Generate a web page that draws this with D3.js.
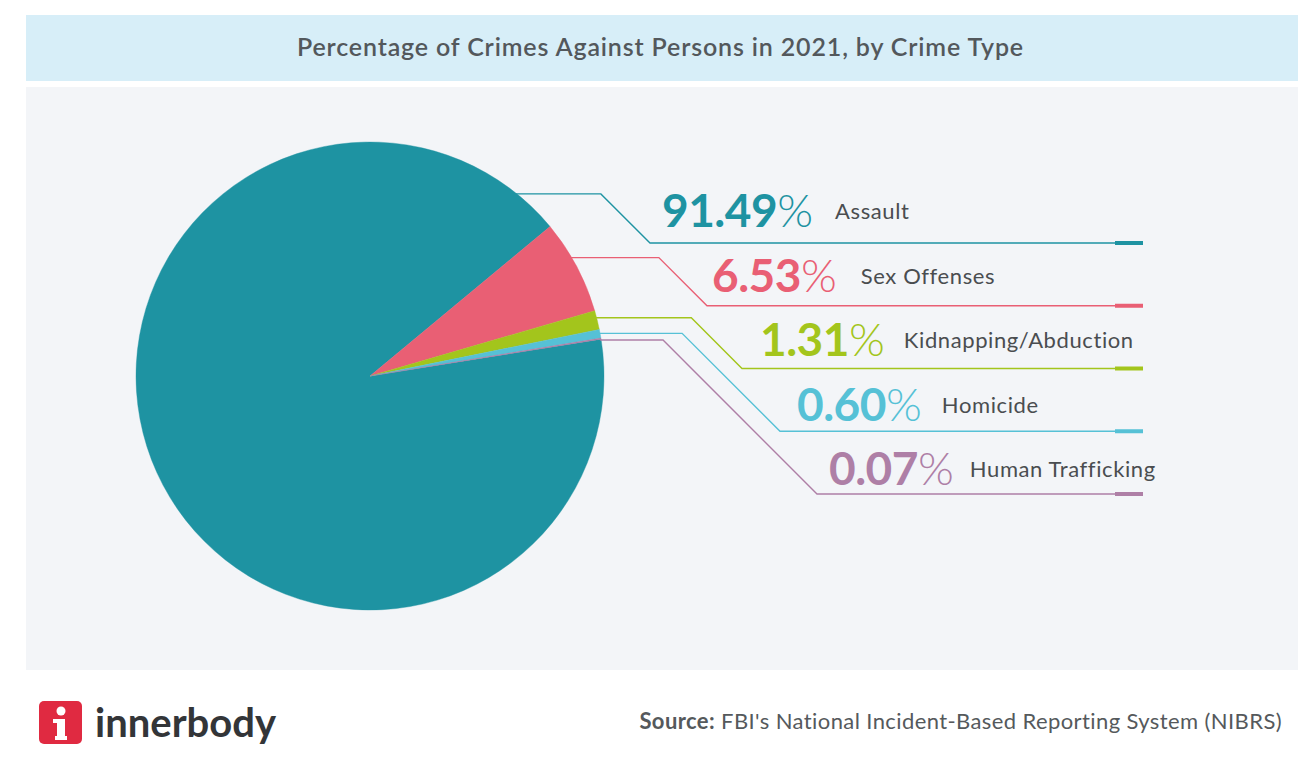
<!DOCTYPE html>
<html><head><meta charset="utf-8">
<script src="https://cdn.jsdelivr.net/npm/d3@7"></script>
<style>
body{margin:0;background:#fff;}
svg{display:block;font-family:Lato,"Open Sans",sans-serif;}
</style>
</head><body>
<svg id="c" width="1308" height="758"></svg>
<script>
// ---- data ----
const categories = ["Assault","Sex Offenses","Kidnapping/Abduction","Homicide","Human Trafficking"];
const values = [91.49, 6.53, 1.31, 0.60, 0.07];
const valueLabels = ["91.49","6.53","1.31","0.60","0.07"];
const colors = ["#1e93a2","#e95f74","#a3c51c","#56c1d6","#ae7fa6"];
const title = "Percentage of Crimes Against Persons in 2021, by Crime Type";
const sourceLabel = "Source:";
const sourceText = " FBI's National Incident-Based Reporting System (NIBRS)";
const brand = "innerbody";

// ---- layout ----
const cx = 370, cy = 376, R = 234;
const rad = d => d * Math.PI / 180;
const boundaryDeg = 50.3;              // where slice 2 starts (clockwise from 12 o'clock)
const leaderDeg = [38.9, 59.6, 75.6, 79.5, 81.15];
const bendX = [650, 707, 742, 780, 817];
const pctOffset = [12, 5, 18, 17, 12];
const labelGap = [22, 24, 19, 20, 16];
const lineEnd = 1143, capLen = 28;

const svg = d3.select("#c");
svg.append("rect").attr("x",26).attr("y",15).attr("width",1272).attr("height",66).attr("fill","#d7eef8");
svg.append("rect").attr("x",26).attr("y",87).attr("width",1272).attr("height",583).attr("fill","#f3f5f8");
svg.append("text").attr("x",660.5).attr("y",56).attr("text-anchor","middle")
  .attr("font-size",25).attr("font-weight",600).attr("letter-spacing",0.85)
  .attr("fill","#53585c").text(title);

// ---- pie ----
const sum = d3.sum(values);
const startA = rad(boundaryDeg) - 2*Math.PI*values[0]/sum;
const pie = d3.pie().sort(null).startAngle(startA).endAngle(startA + 2*Math.PI);
const arcs = pie(values);
const arc = d3.arc().innerRadius(0).outerRadius(R);
const g = svg.append("g").attr("transform",`translate(${cx},${cy})`);
g.selectAll("path").data(arcs).join("path").attr("d",arc)
  .attr("fill",(d,i)=>colors[i]).attr("stroke",(d,i)=>colors[i]).attr("stroke-width",0.4);

// ---- leaders ----
const yLine = d3.scalePoint().domain(categories).range([243,494]);
const yText = d3.scalePoint().domain(categories).range([227,485]);

categories.forEach((c,i)=>{
  const a = rad(leaderDeg[i]);
  const sx = cx + R*Math.sin(a), sy = cy - R*Math.cos(a);
  const by = yLine(c);
  const hx = bendX[i] - (by - sy);
  svg.append("path")
    .attr("d", d3.line()([[sx-1,sy],[hx,sy],[bendX[i],by],[lineEnd,by]]))
    .attr("fill","none").attr("stroke",colors[i]).attr("stroke-width",1.4);
  svg.append("rect").attr("x",lineEnd-capLen).attr("y",by-2).attr("width",capLen).attr("height",4)
    .attr("fill",colors[i]);
  const t = svg.append("text").attr("x",bendX[i]+pctOffset[i]).attr("y",yText(c))
    .attr("font-size",46).attr("fill",colors[i]);
  t.append("tspan").attr("font-weight",700).attr("letter-spacing",-0.5).text(valueLabels[i]);
  t.append("tspan").attr("font-weight",300).text("%");
  const w = t.node().getComputedTextLength();
  svg.append("text").attr("x",bendX[i]+pctOffset[i]+w+labelGap[i]).attr("y",yText(c)-8)
    .attr("font-size",22).attr("letter-spacing",0.6).attr("fill","#4a4d50").text(c);
});

// ---- footer ----
svg.append("rect").attr("x",39).attr("y",701).attr("width",43).attr("height",43).attr("rx",5).attr("fill","#e02a41");
svg.append("circle").attr("cx",61).attr("cy",711).attr("r",4.5).attr("fill","#fff");
svg.append("path").attr("d","M53,719 H65 V736 H67 V740 H55 V736 H57 V723 H53 Z").attr("fill","#fff");
svg.append("text").attr("x",95).attr("y",737).attr("font-size",40).attr("font-weight",700)
  .attr("fill","#333538").text(brand);
const st = svg.append("text").attr("x",1282).attr("y",729).attr("text-anchor","end")
  .attr("font-size",22).attr("letter-spacing",0.4).attr("fill","#55595c");
st.append("tspan").attr("font-weight",700).text(sourceLabel);
st.append("tspan").attr("font-weight",400).text(sourceText);
</script>
</body></html>
